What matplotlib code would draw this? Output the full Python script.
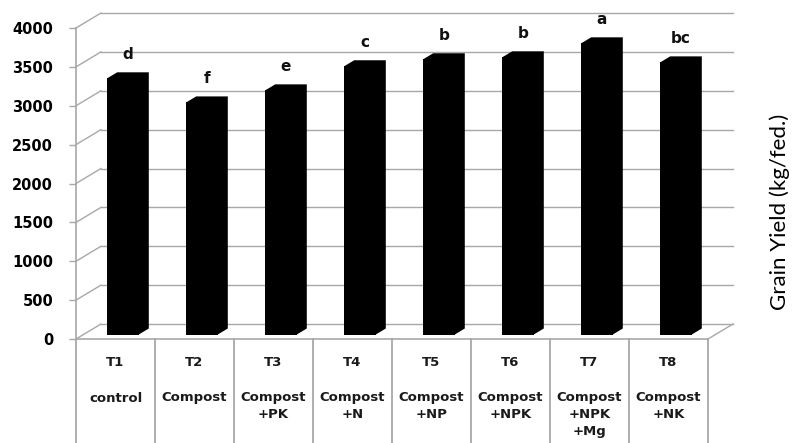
import numpy as np
import matplotlib
matplotlib.use("Agg")
import matplotlib.pyplot as plt

# data
treat_ids = ["T1", "T2", "T3", "T4", "T5", "T6", "T7", "T8"]
treat_names = ["control", "Compost", "Compost\n+PK", "Compost\n+N", "Compost\n+NP",
               "Compost\n+NPK", "Compost\n+NPK\n+Mg", "Compost\n+NK"]
grain_yield = [3295, 2985, 3140, 3450, 3540, 3565, 3745, 3500]
letters = ["d", "f", "e", "c", "b", "b", "a", "bc"]
yticks = [0, 500, 1000, 1500, 2000, 2500, 3000, 3500, 4000]

W, H = 799, 443
fig = plt.figure(figsize=(W / 100, H / 100), dpi=100)
ax = fig.add_axes([76 / W, (H - 339) / H, 632 / W, 311 / H])
ax.set_xlim(0, len(treat_ids))
ax.set_ylim(0, 4000)

# pseudo 3d depth (oblique), in data units
DX = 25 / 79
DY = 15 * 4000 / 311
f0, f1 = 0.3, 0.7
grid_c = "#a8a8a8"

# back wall + left wall + floor
for v in yticks:
    ax.plot([DX, len(treat_ids) + DX], [v + DY, v + DY], color=grid_c, lw=1.0, clip_on=False, zorder=1)
    ax.plot([0, DX], [v, v + DY], color=grid_c, lw=1.0, clip_on=False, zorder=1)
ax.plot([len(treat_ids), len(treat_ids) + DX], [0, DY], color=grid_c, lw=1.0, clip_on=False, zorder=1)

# bars
x = np.arange(len(treat_ids))
bw = f1 - f0
ax.bar(x + f0 + f0 * DX, grain_yield, width=bw, bottom=f0 * DY, align="edge",
       color="black", zorder=3)
for xi, v in zip(x, grain_yield):
    xl = xi + f0 + f0 * DX
    xr = xl + bw
    yb = f0 * DY
    yt = v + f0 * DY
    sx = (f1 - f0) * DX
    sy = (f1 - f0) * DY
    ax.fill([xl, xl + sx, xr + sx, xr + sx, xr, xr], [yt, yt + sy, yt + sy, yb + sy, yb, yt],
            color="black", lw=0, zorder=3, clip_on=False)

# significance letters
for xi, v, lt in zip(x, grain_yield, letters):
    ax.annotate(lt, xy=(xi + 0.5 + 0.5 * DX, v + f1 * DY), xytext=(0, 9.5),
                textcoords="offset points", ha="center", va="baseline",
                fontsize=11, fontweight="bold", family="DejaVu Sans", color="#111111",
                annotation_clip=False)

# axes styling
for s in ["top", "right"]:
    ax.spines[s].set_visible(False)
ax.spines["left"].set_color(grid_c)
ax.spines["bottom"].set_color(grid_c)
ax.spines["left"].set_linewidth(1.2)
ax.spines["bottom"].set_linewidth(1.2)
ax.set_yticks(yticks)
ax.set_yticklabels([str(t) for t in yticks], fontsize=10.5, fontweight="bold", family="DejaVu Sans")
ax.tick_params(axis="y", direction="out", length=5, width=1, color=grid_c, pad=11.5)
ax.set_xticks([])

# category table under the axis
tr = ax.get_xaxis_transform()
px = 1 / 311
for b in range(len(treat_ids) + 1):
    ax.plot([b, b], [0, -0.36], color=grid_c, lw=1.3, transform=tr, clip_on=False)
for xi, tid, nm in zip(x, treat_ids, treat_names):
    ax.text(xi + 0.5, -24 * px, tid, transform=tr, ha="center", va="center",
            fontsize=9.5, fontweight="bold", family="DejaVu Sans", color="#1a1a1a")
    for k, line in enumerate(nm.split("\n")):
        ax.text(xi + 0.5, -(59 + 17 * k) * px, line, transform=tr, ha="center", va="center",
                fontsize=9.5, fontweight="bold", family="DejaVu Sans", color="#1a1a1a")

fig.text(780 / W, (H - 212) / H, "Grain Yield (kg/fed.)", rotation=90, ha="center", va="center",
         fontsize=16, family="Lato", color="black")

fig.savefig("out.png", dpi=100)
